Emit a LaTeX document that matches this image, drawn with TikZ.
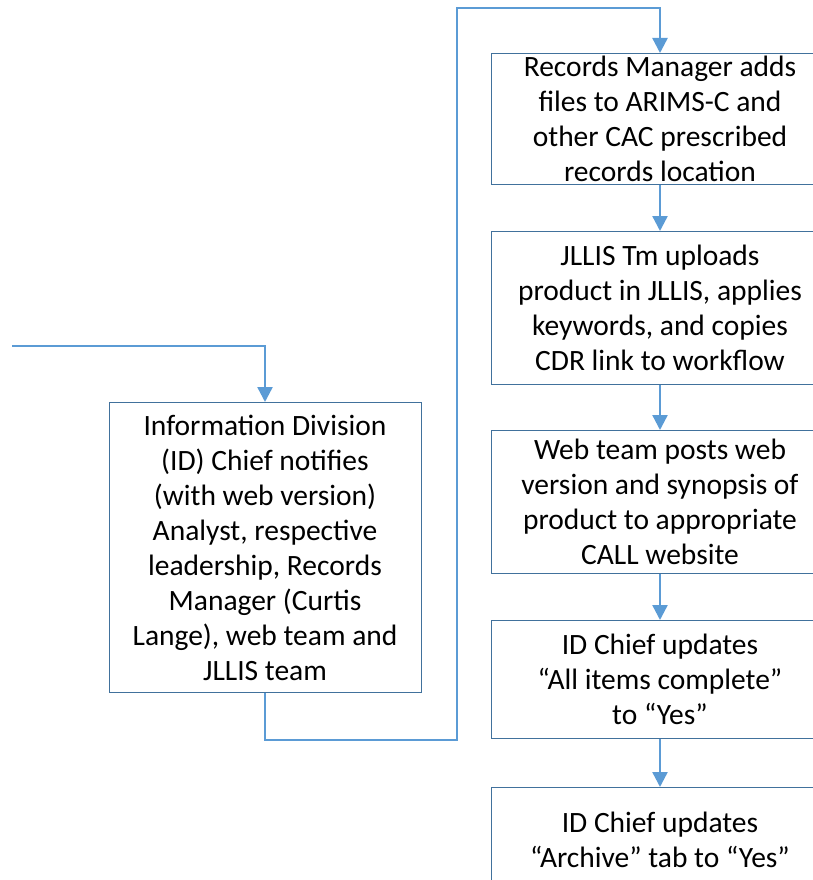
\documentclass[tikz,border=0pt]{standalone}
\usepackage{fontspec}
\setmainfont{Carlito}
\usepackage{xcolor}
\definecolor{boxline}{RGB}{65,113,156}
\definecolor{flowline}{RGB}{91,155,213}
\usepackage{tikz}
\usetikzlibrary{arrows.meta,positioning}
\tikzset{
  procbox/.style={draw=boxline,line width=1pt,fill=white,minimum width=338pt,%
    inner sep=0pt,align=center,font=\fontsize{29.5}{35}\selectfont},
  flow/.style={-{Triangle[width=15pt,length=15pt]},line width=2.4pt,draw=flowline},
}

\begin{document}
\begin{tikzpicture}[x=1pt,y=1pt,node distance=46pt]
\clip (0,0) rectangle (813,-880);
\node[procbox,minimum height=131pt,anchor=north] (rec) at (660,-53)
  {Records Manager adds\\files to ARIMS-C and\\other CAC prescribed\\records location};
\node[procbox,minimum height=153pt,below=of rec] (jllis)
  {JLLIS Tm uploads\\product in JLLIS, applies\\keywords, and copies\\CDR link to workflow};
\node[procbox,minimum height=143pt,below=45pt of jllis] (web)
  {Web team posts web\\version and synopsis of\\product to appropriate\\CALL website};
\node[procbox,minimum height=118pt,below=of web] (done)
  {ID Chief updates\\``All items complete''\\to ``Yes''};
\node[procbox,minimum height=104pt,below=48pt of done] (arch)
  {ID Chief updates\\``Archive'' tab to ``Yes''};
\node[procbox,minimum width=312pt,minimum height=290pt,anchor=north] (notify) at (265,-402)
  {Information Division\\(ID) Chief notifies\\(with web version)\\Analyst, respective\\leadership, Records\\Manager (Curtis\\Lange), web team and\\JLLIS team};
% loop from the left box up to the top of the right column
\coordinate (start) at (12,-346);
\coordinate (loopbot) at (457,-740);
\coordinate (looptop) at (457,-8);
\draw[flow] (start) -| (notify.north);
\draw[flow] (notify.south) |- (loopbot) -- (looptop) -| (rec.north);
\draw[flow] (rec) -- (jllis);
\draw[flow] (jllis) -- (web);
\draw[flow] (web) -- (done);
\draw[flow] (done) -- (arch);
\end{tikzpicture}
\end{document}
